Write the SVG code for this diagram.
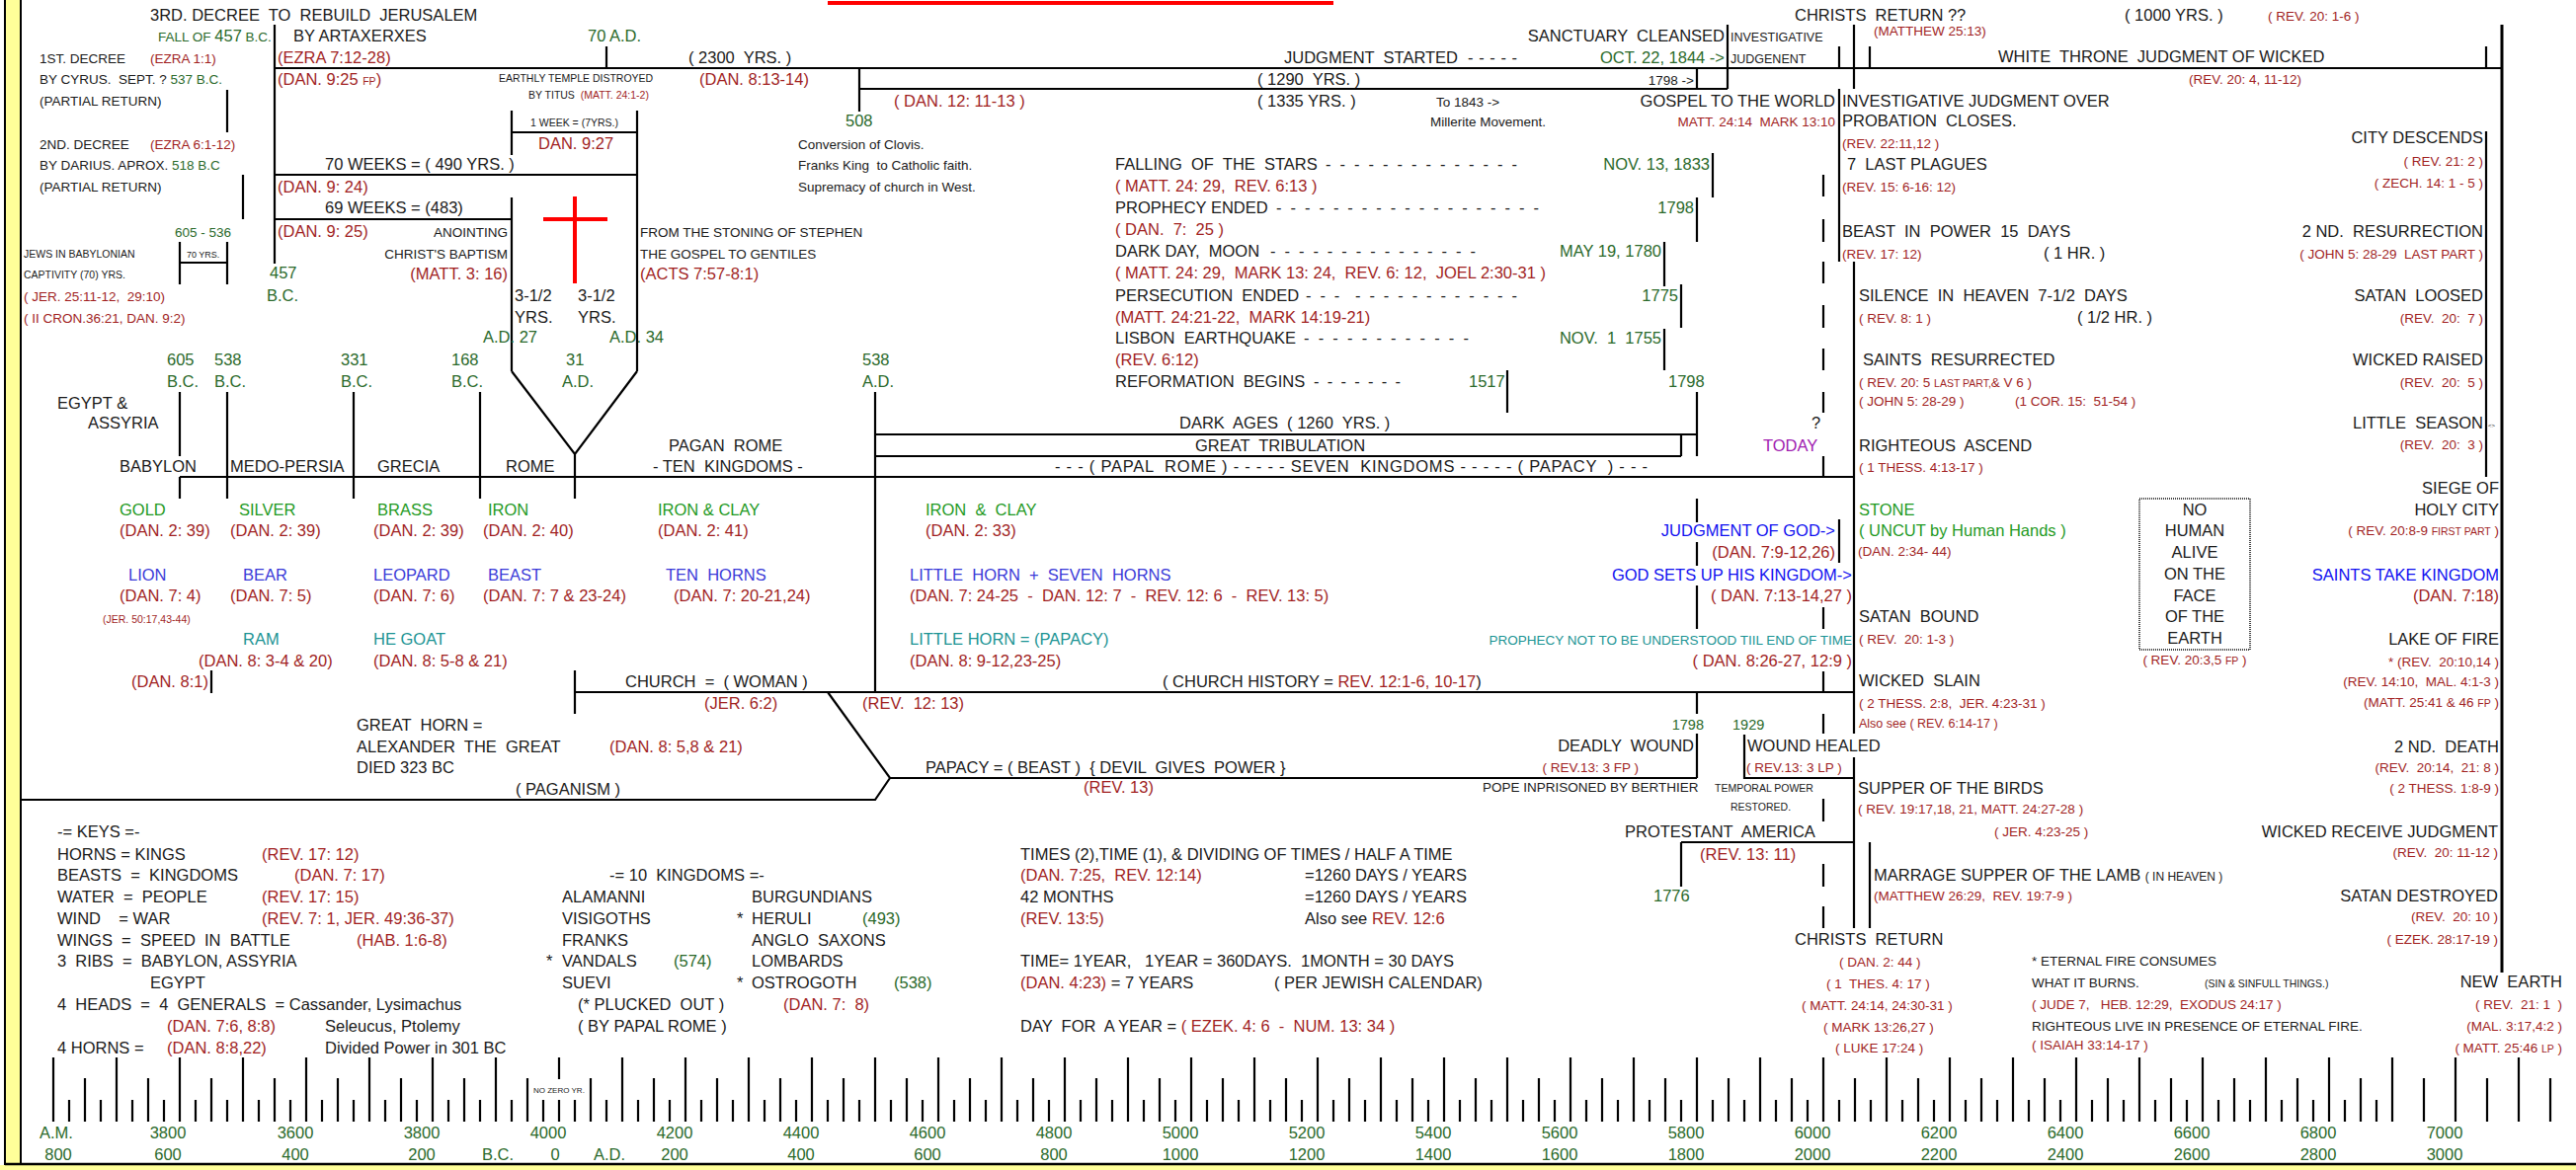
<svg xmlns="http://www.w3.org/2000/svg" width="2608" height="1185" viewBox="0 0 2608 1185" xml:space="preserve">
<style>
text{font-family:'Liberation Sans',Arial,sans-serif;white-space:pre}
.L{font-size:16.5px}.M{font-size:13.5px}.S{font-size:10.5px}.XS{font-size:9px}
.k{fill:#1a1a1a}.r{fill:#a11f1f}.g{fill:#2b6a2b}.gb{fill:#1f9a1f}.b{fill:#3b3bd8}.bb{fill:#1010f0}.t{fill:#1c9494}.p{fill:#a020b0}
.e{text-anchor:end}.m{text-anchor:middle}
.ln{stroke:#000;stroke-width:2.2;fill:none}
</style>
<rect x="0" y="0" width="2608" height="1185" fill="#fff"/>
<rect x="5" y="-2" width="16" height="1190" fill="#ffff99" stroke="#000" stroke-width="2"/>
<rect x="0" y="1180" width="2608" height="6" fill="#ffff99"/>
<line x1="5" y1="1179" x2="2608" y2="1179" stroke="#000" stroke-width="2.5"/>
<line x1="838" y1="3" x2="1350" y2="3" stroke="#f00" stroke-width="4"/>

<g id="connectors" class="ln">
<path d="M278 25V267M278 69H2533M614 47V69M870 69V113M870 90H1749M1749 25V90M1718 69V90M1862 47V69M1893 47V69M1877 25V90M2517 47V69M1862 90V265M1877 265V743M1877 767V940M2517 133V483"/>
<path d="M2533 25V985" stroke-width="3"/>
<path d="M230 91V134M246 177V222M518 112V157M645 112V376M518 134H645M278 177H645M278 222H518M518 200V376M518 376L582 460L645 376M582 460V505"/>
<path d="M182 245V288M230 245V288M182 266H230"/>
<path d="M182 397V462M182 483V505M230 397V505M358 397V505M486 397V505M182 483H1877M886 397V701"/>
<path d="M886 440H1718M1718 397V462M886 462H1702M1702 440V462"/>
<path d="M1734 155V200M1718 200V245M1685 245V290M1702 288V332M1685 333V375M1526 375V418"/>
<path d="M1846 177V199M1846 222V245M1846 265V287M1846 309V332M1846 353V375M1846 397V418M1846 462V483M1846 615V637M1846 680V702M1846 723V743M1846 809V832M1846 875V898M1846 918V940"/>
<path d="M1862 526V570M1718 505V529M1718 549V573M1718 593V637"/>
<path d="M582 679V723M582 701H1877M214 679V702"/>
<path d="M838 701L901 788H1718M21 810H886L901 788M1718 702V723M1718 743V788M1766 744V788H1877"/>
<path d="M1702 853H1877M1702 853V898M1893 853V940"/>
<path d="M582 199V287M550 222H615" stroke="#f00" stroke-width="4"/>
</g>

<g id="timeline">
<path class="ln" stroke-width="2" d="M54 1071V1136M118 1071V1136M182 1071V1136M246 1071V1136M310 1071V1136M374 1071V1136M438 1071V1136M502 1071V1136M566 1071V1093M566 1114V1136M630 1071V1136M694 1071V1136M758 1071V1136M822 1071V1136M886 1071V1136M950 1071V1136M1014 1071V1136M1078 1071V1136M1142 1071V1136M1206 1071V1136M1270 1071V1136M1334 1071V1136M1398 1071V1136M1462 1071V1136M1526 1071V1136M1590 1071V1136M1654 1071V1136M1718 1071V1136M1782 1071V1136M1846 1071V1136M1910 1071V1136M1974 1071V1136M2038 1071V1136M2102 1071V1136M2166 1071V1136M2230 1071V1136M2294 1071V1136M2358 1071V1136M2422 1071V1136M2486 1071V1136M2550 1071V1136"/>
<path class="ln" stroke-width="2" d="M86 1092v44m64-44v44m64-44v44m64-44v44m64-44v44m64-44v44m64-44v44m64-44v44m64-44v44m64-44v44m64-44v44m64-44v44m64-44v44m64-44v44m64-44v44m64-44v44m64-44v44m64-44v44m64-44v44m64-44v44m64-44v44m64-44v44m64-44v44m64-44v44m64-44v44m64-44v44m64-44v44m64-44v44m64-44v44m64-44v44m64-44v44m64-44v44m64-44v44m64-44v44m64-44v44m64-44v44m64-44v44m64-44v44m64-44v44m64-44v44"/>
<path class="ln" stroke-width="2" d="M70 1114v22m32-22v22m32-22v22m32-22v22m32-22v22m32-22v22m32-22v22m32-22v22m32-22v22m32-22v22m32-22v22m32-22v22m32-22v22m32-22v22m32-22v22m32-22v22m32-22v22m32-22v22m32-22v22m32-22v22m32-22v22m32-22v22m32-22v22m32-22v22m32-22v22m32-22v22m32-22v22m32-22v22m32-22v22m32-22v22m32-22v22m32-22v22m32-22v22m32-22v22m32-22v22m32-22v22m32-22v22m32-22v22m32-22v22m32-22v22m32-22v22m32-22v22m32-22v22m32-22v22m32-22v22m32-22v22m32-22v22m32-22v22m32-22v22m32-22v22m32-22v22m32-22v22m32-22v22m32-22v22m32-22v22m32-22v22m32-22v22m32-22v22m32-22v22m32-22v22m32-22v22m32-22v22m32-22v22m32-22v22m32-22v22m32-22v22m32-22v22m32-22v22m32-22v22m32-22v22m32-22v22m32-22v22m32-22v22m32-22v22"/>
<text class="k" x="540" y="1107" style="font-size:8px">NO ZERO YR.</text>
<g class="L g m">
<text x="57" y="1153">A.M.</text><text x="170" y="1153">3800</text><text x="299" y="1153">3600</text><text x="427" y="1153">3800</text><text x="555" y="1153">4000</text><text x="683" y="1153">4200</text><text x="811" y="1153">4400</text><text x="939" y="1153">4600</text><text x="1067" y="1153">4800</text><text x="1195" y="1153">5000</text><text x="1323" y="1153">5200</text><text x="1451" y="1153">5400</text><text x="1579" y="1153">5600</text><text x="1707" y="1153">5800</text><text x="1835" y="1153">6000</text><text x="1963" y="1153">6200</text><text x="2091" y="1153">6400</text><text x="2219" y="1153">6600</text><text x="2347" y="1153">6800</text><text x="2475" y="1153">7000</text>
<text x="59" y="1175">800</text><text x="170" y="1175">600</text><text x="299" y="1175">400</text><text x="427" y="1175">200</text><text x="504" y="1175">B.C.</text><text x="562" y="1175">0</text><text x="617" y="1175">A.D.</text><text x="683" y="1175">200</text><text x="811" y="1175">400</text><text x="939" y="1175">600</text><text x="1067" y="1175">800</text><text x="1195" y="1175">1000</text><text x="1323" y="1175">1200</text><text x="1451" y="1175">1400</text><text x="1579" y="1175">1600</text><text x="1707" y="1175">1800</text><text x="1835" y="1175">2000</text><text x="1963" y="1175">2200</text><text x="2091" y="1175">2400</text><text x="2219" y="1175">2600</text><text x="2347" y="1175">2800</text><text x="2475" y="1175">3000</text>
</g>
</g>

<g id="decrees">
<text class="L k" x="152" y="21">3RD. DECREE  TO  REBUILD  JERUSALEM</text>
<text class="g" x="160" y="42"><tspan class="M">FALL OF </tspan><tspan class="L">457</tspan><tspan class="M"> B.C.</tspan></text>
<text class="L k" x="297" y="42">BY ARTAXERXES</text>
<text class="L g" x="595" y="42">70 A.D.</text>
<text class="M k" x="40" y="64">1ST. DECREE</text>
<text class="M r" x="152" y="64">(EZRA 1:1)</text>
<text class="L r" x="281" y="64">(EZRA 7:12-28)</text>
<text class="L r" x="281" y="86">(DAN. 9:25 <tspan class="S">FP</tspan>)</text>
<text class="M k" x="40" y="85">BY CYRUS.  SEPT. ? <tspan class="g">537 B.C.</tspan></text>
<text class="M k" x="40" y="107">(PARTIAL RETURN)</text>
<text class="M k" x="40" y="151">2ND. DECREE</text>
<text class="M r" x="152" y="151">(EZRA 6:1-12)</text>
<text class="M k" x="40" y="172">BY DARIUS. APROX. <tspan class="g">518 B.C</tspan></text>
<text class="M k" x="40" y="194">(PARTIAL RETURN)</text>
</g>

<g id="seventy-weeks">
<text class="S k" x="505" y="83">EARTHLY TEMPLE DISTROYED</text>
<text class="S k" x="535" y="100">BY TITUS  <tspan class="r">(MATT. 24:1-2)</tspan></text>
<text class="S k" x="537" y="128">1 WEEK = (7YRS.)</text>
<text class="L r" x="545" y="151">DAN. 9:27</text>
<text class="L k" x="329" y="172">70 WEEKS = ( 490 YRS. )</text>
<text class="L r" x="281" y="195">(DAN. 9: 24)</text>
<text class="L k" x="329" y="216">69 WEEKS = (483)</text>
<text class="L r" x="281" y="240">(DAN. 9: 25)</text>
<text class="M k e" x="514" y="240">ANOINTING</text>
<text class="M k e" x="514" y="262">CHRIST'S BAPTISM</text>
<text class="L r e" x="514" y="283">(MATT. 3: 16)</text>
<text class="L g" x="273" y="282">457</text>
<text class="L g" x="270" y="305">B.C.</text>
<text class="L k" x="521" y="305">3-1/2</text>
<text class="L k" x="521" y="327">YRS.</text>
<text class="L k" x="585" y="305">3-1/2</text>
<text class="L k" x="585" y="327">YRS.</text>
<text class="L g" x="489" y="347">A.D. 27</text>
<text class="L g" x="617" y="347">A.D. 34</text>
<text class="M k" x="648" y="240">FROM THE STONING OF STEPHEN</text>
<text class="M k" x="648" y="262">THE GOSPEL TO GENTILES</text>
<text class="L r" x="648" y="283">(ACTS 7:57-8:1)</text>
</g>

<g id="captivity">
<text class="M g" x="177" y="240">605 - 536</text>
<text class="XS k" x="189" y="261">70 YRS.</text>
<text class="S k" x="24" y="261">JEWS IN BABYLONIAN</text>
<text class="S k" x="24" y="282">CAPTIVITY (70) YRS.</text>
<text class="M r" x="24" y="305">( JER. 25:11-12,  29:10)</text>
<text class="M r" x="24" y="327">( II CRON.36:21, DAN. 9:2)</text>
</g>

<g id="dates" class="L g">
<text x="169" y="370">605</text><text x="169" y="392">B.C.</text>
<text x="217" y="370">538</text><text x="217" y="392">B.C.</text>
<text x="345" y="370">331</text><text x="345" y="392">B.C.</text>
<text x="457" y="370">168</text><text x="457" y="392">B.C.</text>
<text x="573" y="370">31</text><text x="569" y="392">A.D.</text>
<text x="873" y="370">538</text><text x="873" y="392">A.D.</text>
</g>

<g id="kingdoms" class="L">
<text class="k" x="58" y="414">EGYPT &amp;</text>
<text class="k" x="89" y="434">ASSYRIA</text>
<text class="k" x="121" y="478">BABYLON</text>
<text class="k" x="233" y="478">MEDO-PERSIA</text>
<text class="k" x="382" y="478">GRECIA</text>
<text class="k" x="512" y="478">ROME</text>
<text class="k" x="677" y="457">PAGAN  ROME</text>
<text class="k" x="661" y="478">- TEN  KINGDOMS -</text>
<text class="gb" x="121" y="522">GOLD</text>
<text class="gb" x="242" y="522">SILVER</text>
<text class="gb" x="382" y="522">BRASS</text>
<text class="gb" x="494" y="522">IRON</text>
<text class="gb" x="666" y="522">IRON &amp; CLAY</text>
<text class="gb" x="937" y="522">IRON  &amp;  CLAY</text>
<text class="r" x="121" y="543">(DAN. 2: 39)</text>
<text class="r" x="233" y="543">(DAN. 2: 39)</text>
<text class="r" x="378" y="543">(DAN. 2: 39)</text>
<text class="r" x="489" y="543">(DAN. 2: 40)</text>
<text class="r" x="666" y="543">(DAN. 2: 41)</text>
<text class="r" x="937" y="543">(DAN. 2: 33)</text>
<text class="b" x="130" y="588">LION</text>
<text class="b" x="246" y="588">BEAR</text>
<text class="b" x="378" y="588">LEOPARD</text>
<text class="b" x="494" y="588">BEAST</text>
<text class="b" x="674" y="588">TEN  HORNS</text>
<text class="b" x="921" y="588">LITTLE  HORN  +  SEVEN  HORNS</text>
<text class="r" x="121" y="609">(DAN. 7: 4)</text>
<text class="r" x="233" y="609">(DAN. 7: 5)</text>
<text class="r" x="378" y="609">(DAN. 7: 6)</text>
<text class="r" x="489" y="609">(DAN. 7: 7 &amp; 23-24)</text>
<text class="r" x="682" y="609">(DAN. 7: 20-21,24)</text>
<text class="r" x="921" y="609">(DAN. 7: 24-25  -  DAN. 12: 7  -  REV. 12: 6  -  REV. 13: 5)</text>
<text class="r S" x="104" y="631">(JER. 50:17,43-44)</text>
<text class="t" x="246" y="653">RAM</text>
<text class="t" x="378" y="653">HE GOAT</text>
<text class="t" x="921" y="653">LITTLE HORN = (PAPACY)</text>
<text class="r" x="201" y="675">(DAN. 8: 3-4 &amp; 20)</text>
<text class="r" x="378" y="675">(DAN. 8: 5-8 &amp; 21)</text>
<text class="r" x="921" y="675">(DAN. 8: 9-12,23-25)</text>
<text class="r" x="133" y="696">(DAN. 8:1)</text>
</g>

<g id="church" class="L">
<text class="k" x="633" y="696">CHURCH  =  ( WOMAN )</text>
<text class="k" x="1177" y="696">( CHURCH HISTORY = <tspan class="r">REV. 12:1-6, 10-17</tspan>)</text>
<text class="r" x="713" y="718">(JER. 6:2)</text>
<text class="r" x="873" y="718">(REV.  12: 13)</text>
<text class="k" x="361" y="740">GREAT  HORN =</text>
<text class="k" x="361" y="762">ALEXANDER  THE  GREAT</text>
<text class="k" x="361" y="783">DIED 323 BC</text>
<text class="r" x="617" y="762">(DAN. 8: 5,8 &amp; 21)</text>
<text class="k" x="937" y="783">PAPACY = ( BEAST )  { DEVIL  GIVES  POWER }</text>
<text class="r" x="1097" y="803">(REV. 13)</text>
<text class="k" x="522" y="805">( PAGANISM )</text>
</g>

<g id="dark-ages" class="L">
<text class="k" x="1194" y="434">DARK  AGES  ( 1260  YRS. )</text>
<text class="k" x="1210" y="457">GREAT  TRIBULATION</text>
<text class="k" x="1068" y="478" textLength="600" lengthAdjust="spacing">- - - ( PAPAL  ROME ) - - - - - SEVEN  KINGDOMS - - - - - ( PAPACY  ) - - -</text>
<text class="k" x="1834" y="434">?</text>
<text class="p" x="1785" y="457">TODAY</text>
</g>

<g id="sanctuary">
<text class="L k" x="697" y="64">( 2300  YRS. )</text>
<text class="L r" x="708" y="86">(DAN. 8:13-14)</text>
<text class="L r" x="905" y="108">( DAN. 12: 11-13 )</text>
<text class="L g" x="856" y="128">508</text>
<text class="M k" x="808" y="151">Conversion of Clovis.</text>
<text class="M k" x="808" y="172">Franks King  to Catholic faith.</text>
<text class="M k" x="808" y="194">Supremacy of church in West.</text>
<text class="L k" x="1300" y="64">JUDGMENT  STARTED</text>
<text class="L k" x="1486" y="64" textLength="50" lengthAdjust="spacing">- - - - -</text>
<text class="L k" x="1273" y="86">( 1290  YRS. )</text>
<text class="L k" x="1273" y="108">( 1335 YRS. )</text>
<text class="M k e" x="1715" y="86">1798 -&gt;</text>
<text class="M k" x="1454" y="108">To 1843 -&gt;</text>
<text class="M k" x="1448" y="128">Millerite Movement.</text>
<text class="L k e" x="1858" y="108">GOSPEL TO THE WORLD</text>
<text class="M r e" x="1858" y="128">MATT. 24:14  MARK 13:10</text>
<text class="L k e" x="1746" y="42">SANCTUARY  CLEANSED</text>
<text class="L g e" x="1746" y="64">OCT. 22, 1844 -&gt;</text>
<text class="k" x="1752" y="42" style="font-size:12.5px">INVESTIGATIVE</text>
<text class="k" x="1752" y="64" style="font-size:12.5px">JUDGENENT</text>
</g>

<g id="signs" class="L">
<text class="k" x="1129" y="172">FALLING  OF  THE  STARS</text>
<text class="k" x="1342" y="172" textLength="194" lengthAdjust="spacing">- - - - - - - - - - - - - -</text>
<text class="g e" x="1731" y="172">NOV. 13, 1833</text>
<text class="r" x="1129" y="194">( MATT. 24: 29,  REV. 6:13 )</text>
<text class="k" x="1129" y="216">PROPHECY ENDED</text>
<text class="k" x="1292" y="216" textLength="266" lengthAdjust="spacing">- - - - - - - - - - - - - - - - - - -</text>
<text class="g e" x="1715" y="216">1798</text>
<text class="r" x="1129" y="238">( DAN.  7:  25 )</text>
<text class="k" x="1129" y="260">DARK DAY,  MOON</text>
<text class="k" x="1286" y="260" textLength="208" lengthAdjust="spacing">- - - - - - - - - - - - - - -</text>
<text class="g e" x="1682" y="260">MAY 19, 1780</text>
<text class="r" x="1129" y="282">( MATT. 24: 29,  MARK 13: 24,  REV. 6: 12,  JOEL 2:30-31 )</text>
<text class="k" x="1129" y="305">PERSECUTION  ENDED</text>
<text class="k" x="1322" y="305" textLength="214" lengthAdjust="spacing">- - -  - - - - - - - - - - - -</text>
<text class="g e" x="1699" y="305">1775</text>
<text class="r" x="1129" y="327">(MATT. 24:21-22,  MARK 14:19-21)</text>
<text class="k" x="1129" y="348">LISBON  EARTHQUAKE</text>
<text class="k" x="1320" y="348" textLength="167" lengthAdjust="spacing">- - - - - - - - - - - -</text>
<text class="g e" x="1682" y="348">NOV.  1  1755</text>
<text class="r" x="1129" y="370">(REV. 6:12)</text>
<text class="k" x="1129" y="392">REFORMATION  BEGINS</text>
<text class="k" x="1330" y="392" textLength="88" lengthAdjust="spacing">- - - - - - -</text>
<text class="g" x="1487" y="392">1517</text>
<text class="g" x="1689" y="392">1798</text>
</g>

<g id="final-events">
<text class="L k" x="1817" y="21">CHRISTS  RETURN ??</text>
<text class="M r" x="1897" y="36">(MATTHEW 25:13)</text>
<text class="L k" x="2151" y="21">( 1000 YRS. )</text>
<text class="M r" x="2296" y="21">( REV. 20: 1-6 )</text>
<text class="L k" x="2023" y="63">WHITE  THRONE  JUDGMENT OF WICKED</text>
<text class="M r" x="2216" y="85">(REV. 20: 4, 11-12)</text>
<text class="L k" x="1865" y="108">INVESTIGATIVE JUDGMENT OVER</text>
<text class="L k" x="1865" y="128">PROBATION  CLOSES.</text>
<text class="M r" x="1865" y="150">(REV. 22:11,12 )</text>
<text class="L k" x="1870" y="172">7  LAST PLAGUES</text>
<text class="M r" x="1865" y="194">(REV. 15: 6-16: 12)</text>
<text class="L k" x="1865" y="240">BEAST  IN  POWER  15  DAYS</text>
<text class="M r" x="1865" y="262">(REV. 17: 12)</text>
<text class="L k" x="2069" y="262">( 1 HR. )</text>
<text class="L k" x="1882" y="305">SILENCE  IN  HEAVEN  7-1/2  DAYS</text>
<text class="M r" x="1882" y="327">( REV. 8: 1 )</text>
<text class="L k" x="2103" y="327">( 1/2 HR. )</text>
<text class="L k" x="1886" y="370">SAINTS  RESURRECTED</text>
<text class="M r" x="1882" y="392">( REV. 20: 5 <tspan class="S">LAST PART,</tspan>&amp; V 6 )</text>
<text class="M r" x="1882" y="411">( JOHN 5: 28-29 )</text>
<text class="M r" x="2040" y="411">(1 COR. 15:  51-54 )</text>
<text class="L k" x="1882" y="457">RIGHTEOUS  ASCEND</text>
<text class="M r" x="1882" y="478">( 1 THESS. 4:13-17 )</text>
<text class="L gb" x="1882" y="522">STONE</text>
<text class="L gb" x="1882" y="543">( UNCUT by Human Hands )</text>
<text class="M r" x="1881" y="563">(DAN. 2:34- 44)</text>
<text class="L k" x="1882" y="630">SATAN  BOUND</text>
<text class="M r" x="1882" y="652">( REV.  20: 1-3 )</text>
<text class="L k" x="1882" y="695">WICKED  SLAIN</text>
<text class="M r" x="1882" y="717">( 2 THESS. 2:8,  JER. 4:23-31 )</text>
<text class="r" x="1882" y="737" style="font-size:12.5px">Also see ( REV. 6:14-17 )</text>
<text class="L bb e" x="1858" y="543">JUDGMENT OF GOD-&gt;</text>
<text class="L r e" x="1858" y="565">(DAN. 7:9-12,26)</text>
<text class="L bb e" x="1875" y="588">GOD SETS UP HIS KINGDOM-&gt;</text>
<text class="L r e" x="1875" y="609">( DAN. 7:13-14,27 )</text>
<text class="M t e" x="1875" y="653">PROPHECY NOT TO BE UNDERSTOOD TIIL END OF TIME</text>
<text class="L r e" x="1875" y="675">( DAN. 8:26-27, 12:9 )</text>
<text class="M g e" x="1725" y="739" style="font-size:14.5px">1798</text>
<text class="M g" x="1754" y="739" style="font-size:14.5px">1929</text>
<text class="L k e" x="1715" y="761">DEADLY  WOUND</text>
<text class="M r e" x="1659" y="782">( REV.13: 3 FP )</text>
<text class="L k" x="1769" y="761">WOUND HEALED</text>
<text class="M r" x="1768" y="782">( REV.13: 3 LP )</text>
<text class="M k" x="1501" y="802">POPE INPRISONED BY BERTHIER</text>
<text class="S k" x="1736" y="802">TEMPORAL POWER</text>
<text class="S k" x="1752" y="821">RESTORED.</text>
<text class="L k" x="1645" y="848">PROTESTANT  AMERICA</text>
<text class="L r" x="1721" y="871">(REV. 13: 11)</text>
<text class="L g" x="1674" y="913">1776</text>
<text class="L k" x="1881" y="804">SUPPER OF THE BIRDS</text>
<text class="M r" x="1881" y="824">( REV. 19:17,18, 21, MATT. 24:27-28 )</text>
<text class="M r" x="2019" y="847">( JER. 4:23-25 )</text>
<text class="L k" x="1897" y="892">MARRAGE SUPPER OF THE LAMB <tspan style="font-size:12px">( IN HEAVEN )</tspan></text>
<text class="M r" x="1897" y="912">(MATTHEW 26:29,  REV. 19:7-9 )</text>
<text class="L k" x="1817" y="957">CHRISTS  RETURN</text>
<text class="M r" x="1862" y="979">( DAN. 2: 44 )</text>
<text class="M r" x="1849" y="1001">( 1  THES. 4: 17 )</text>
<text class="M r" x="1824" y="1023">( MATT. 24:14, 24:30-31 )</text>
<text class="M r" x="1846" y="1045">( MARK 13:26,27 )</text>
<text class="M r" x="1858" y="1066">( LUKE 17:24 )</text>
</g>

<g id="millennium">
<text class="L k e" x="2514" y="145">CITY DESCENDS</text>
<text class="M r e" x="2514" y="168">( REV. 21: 2 )</text>
<text class="M r e" x="2514" y="190">( ZECH. 14: 1 - 5 )</text>
<text class="L k e" x="2514" y="240">2 ND.  RESURRECTION</text>
<text class="M r e" x="2514" y="262">( JOHN 5: 28-29  LAST PART )</text>
<text class="L k e" x="2514" y="305">SATAN  LOOSED</text>
<text class="M r e" x="2514" y="327">(REV.  20:  7 )</text>
<text class="L k e" x="2514" y="370">WICKED RAISED</text>
<text class="M r e" x="2514" y="392">(REV.  20:  5 )</text>
<text class="L k e" x="2514" y="434">LITTLE  SEASON</text>
<text class="k" x="2519" y="433" style="font-size:6px">&lt;&gt;</text>
<text class="M r e" x="2514" y="455">(REV.  20:  3 )</text>
<text class="L k e" x="2530" y="500">SIEGE OF</text>
<text class="L k e" x="2530" y="522">HOLY CITY</text>
<text class="M r e" x="2530" y="542">( REV. 20:8-9 <tspan class="S">FIRST PART</tspan> )</text>
<text class="L bb e" x="2530" y="588">SAINTS TAKE KINGDOM</text>
<text class="L r e" x="2530" y="609">(DAN. 7:18)</text>
<text class="L k e" x="2530" y="653">LAKE OF FIRE</text>
<text class="M r e" x="2530" y="675">* (REV.  20:10,14 )</text>
<text class="M r e" x="2530" y="695">(REV. 14:10,  MAL. 4:1-3 )</text>
<text class="M r e" x="2530" y="716">(MATT. 25:41 &amp; 46 <tspan class="S">FP</tspan> )</text>
<text class="L k e" x="2530" y="762">2 ND.  DEATH</text>
<text class="M r e" x="2530" y="782">(REV.  20:14,  21: 8 )</text>
<text class="M r e" x="2530" y="803">( 2 THESS. 1:8-9 )</text>
<text class="L k e" x="2529" y="848">WICKED RECEIVE JUDGMENT</text>
<text class="M r e" x="2529" y="868">(REV.  20: 11-12 )</text>
<text class="L k e" x="2529" y="913">SATAN DESTROYED</text>
<text class="M r e" x="2529" y="933">(REV.  20: 10 )</text>
<text class="M r e" x="2529" y="956">( EZEK. 28:17-19 )</text>
<text class="L k e" x="2594" y="1000">NEW  EARTH</text>
<text class="M r e" x="2594" y="1022">( REV.  21: 1  )</text>
<text class="M r e" x="2594" y="1044">(MAL. 3:17,4:2 )</text>
<text class="M r e" x="2594" y="1066">( MATT. 25:46 <tspan class="S">LP</tspan> )</text>
<text class="M k" x="2057" y="978">* ETERNAL FIRE CONSUMES</text>
<text class="M k" x="2057" y="1000">WHAT IT BURNS.</text>
<text class="S k" x="2232" y="1000">(SIN &amp; SINFULL THINGS.)</text>
<text class="M r" x="2057" y="1022">( JUDE 7,   HEB. 12:29,  EXODUS 24:17 )</text>
<text class="M k" x="2057" y="1044">RIGHTEOUS LIVE IN PRESENCE OF ETERNAL FIRE.</text>
<text class="M r" x="2057" y="1063">( ISAIAH 33:14-17 )</text>
</g>

<g id="no-human">
<rect x="2166" y="505" width="112" height="153" fill="none" stroke="#444" stroke-width="2" stroke-dasharray="1 1"/>
<g class="L k m">
<text x="2222" y="522">NO</text><text x="2222" y="543">HUMAN</text><text x="2222" y="565">ALIVE</text><text x="2222" y="587">ON THE</text><text x="2222" y="609">FACE</text><text x="2222" y="630">OF THE</text><text x="2222" y="652">EARTH</text>
</g>
<text class="M r m" x="2222" y="673">( REV. 20:3,5 <tspan class="S">FP</tspan> )</text>
</g>

<g id="keys" class="L">
<text class="k" x="58" y="848">-= KEYS =-</text>
<text class="k" x="58" y="871">HORNS = KINGS</text><text class="r" x="265" y="871">(REV. 17: 12)</text>
<text class="k" x="58" y="892">BEASTS  =  KINGDOMS</text><text class="r" x="298" y="892">(DAN. 7: 17)</text>
<text class="k" x="58" y="914">WATER  =  PEOPLE</text><text class="r" x="265" y="914">(REV. 17: 15)</text>
<text class="k" x="58" y="936">WIND    = WAR</text><text class="r" x="265" y="936">(REV. 7: 1, JER. 49:36-37)</text>
<text class="k" x="58" y="958">WINGS  =  SPEED  IN  BATTLE</text><text class="r" x="361" y="958">(HAB. 1:6-8)</text>
<text class="k" x="58" y="979">3  RIBS  =  BABYLON, ASSYRIA</text>
<text class="k" x="152" y="1001">EGYPT</text>
<text class="k" x="58" y="1023">4  HEADS  =  4  GENERALS  = Cassander, Lysimachus</text>
<text class="r" x="169" y="1045">(DAN. 7:6, 8:8)</text><text class="k" x="329" y="1045">Seleucus, Ptolemy</text>
<text class="k" x="58" y="1067">4 HORNS =</text><text class="r" x="169" y="1067">(DAN. 8:8,22)</text><text class="k" x="329" y="1067">Divided Power in 301 BC</text>
</g>

<g id="ten-kingdoms" class="L">
<text class="k" x="617" y="892">-= 10  KINGDOMS =-</text>
<text class="k" x="569" y="914">ALAMANNI</text>
<text class="k" x="569" y="936">VISIGOTHS</text>
<text class="k" x="569" y="958">FRANKS</text>
<text class="k" x="553" y="979">*</text><text class="k" x="569" y="979">VANDALS</text><text class="g" x="682" y="979">(574)</text>
<text class="k" x="569" y="1001">SUEVI</text>
<text class="k" x="585" y="1023">(* PLUCKED  OUT )</text><text class="r" x="793" y="1023">(DAN. 7:  8)</text>
<text class="k" x="585" y="1045">( BY PAPAL ROME )</text>
<text class="k" x="761" y="914">BURGUNDIANS</text>
<text class="k" x="746" y="936">*</text><text class="k" x="761" y="936">HERULI</text><text class="g" x="873" y="936">(493)</text>
<text class="k" x="761" y="958">ANGLO  SAXONS</text>
<text class="k" x="761" y="979">LOMBARDS</text>
<text class="k" x="746" y="1001">*</text><text class="k" x="761" y="1001">OSTROGOTH</text><text class="g" x="905" y="1001">(538)</text>
</g>

<g id="prophetic-time" class="L">
<text class="k" x="1033" y="871">TIMES (2),TIME (1), &amp; DIVIDING OF TIMES / HALF A TIME</text>
<text class="r" x="1033" y="892">(DAN. 7:25,  REV. 12:14)</text><text class="k" x="1321" y="892">=1260 DAYS / YEARS</text>
<text class="k" x="1033" y="914">42 MONTHS</text><text class="k" x="1321" y="914">=1260 DAYS / YEARS</text>
<text class="r" x="1033" y="936">(REV. 13:5)</text><text class="k" x="1321" y="936">Also see <tspan class="r">REV. 12:6</tspan></text>
<text class="k" x="1033" y="979">TIME= 1YEAR,   1YEAR = 360DAYS.  1MONTH = 30 DAYS</text>
<text class="k" x="1033" y="1001"><tspan class="r">(DAN. 4:23)</tspan> = 7 YEARS</text><text class="k" x="1290" y="1001">( PER JEWISH CALENDAR)</text>
<text class="k" x="1033" y="1045">DAY  FOR  A YEAR = <tspan class="r">( EZEK. 4: 6  -  NUM. 13: 34 )</tspan></text>
</g>
</svg>
